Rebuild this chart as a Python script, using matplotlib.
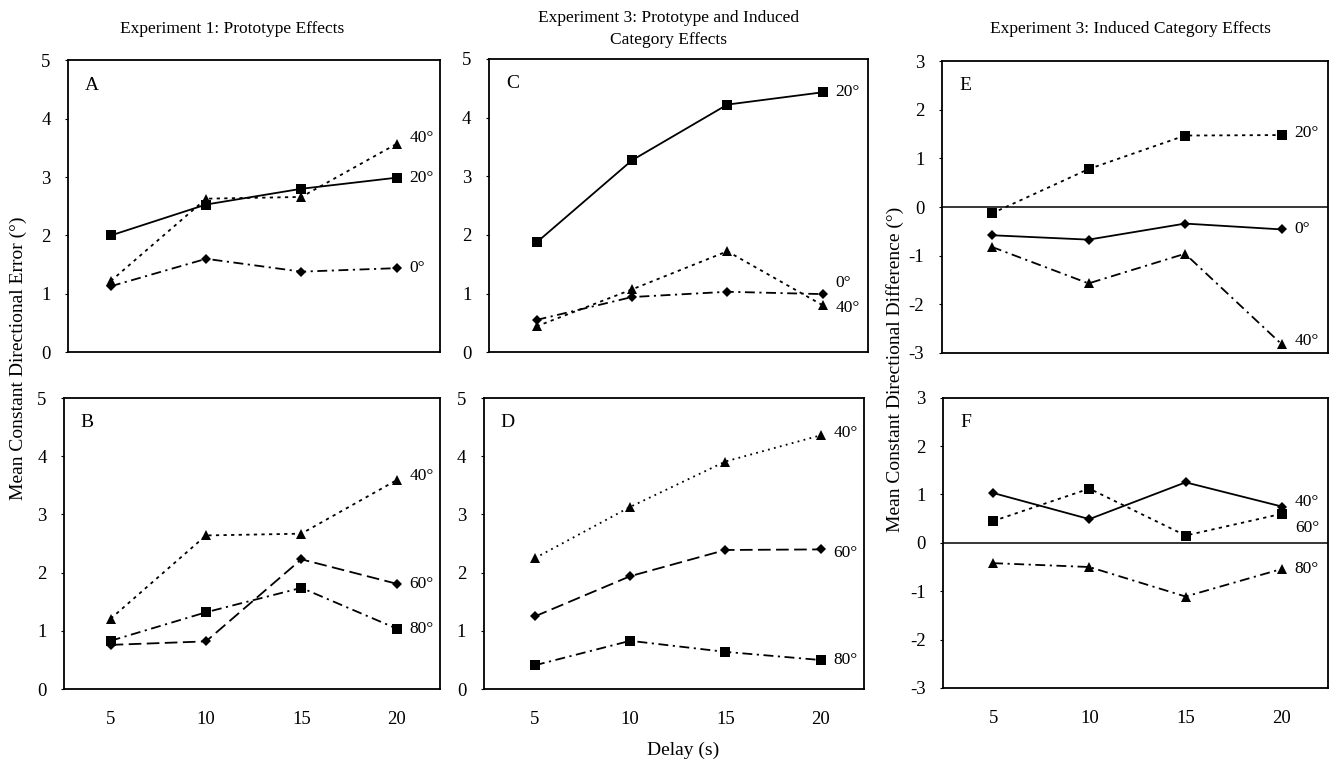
import matplotlib
matplotlib.use("Agg")
import matplotlib.pyplot as plt

plt.rcParams['font.family'] = ['Liberation Serif', 'DejaVu Serif']
plt.rcParams['axes.unicode_minus'] = False

delays = [5, 10, 15, 20]

# Experiment 1: prototype effects
a_20 = [2.00, 2.53, 2.80, 2.99]
a_40 = [1.22, 2.63, 2.66, 3.57]
a_0 = [1.13, 1.60, 1.38, 1.44]
b_40 = [1.21, 2.64, 2.67, 3.59]
b_60 = [0.76, 0.82, 2.23, 1.81]
b_80 = [0.83, 1.32, 1.74, 1.04]

# Experiment 3: prototype and induced category effects
c_20 = [1.87, 3.27, 4.22, 4.43]
c_40 = [0.44, 1.07, 1.72, 0.80]
c_0 = [0.55, 0.94, 1.03, 0.99]
d_40 = [2.25, 3.13, 3.91, 4.36]
d_60 = [1.25, 1.94, 2.39, 2.40]
d_80 = [0.41, 0.83, 0.64, 0.50]

# Experiment 3: induced category effects
e_20 = [-0.13, 0.78, 1.47, 1.48]
e_0 = [-0.58, -0.67, -0.34, -0.46]
e_40 = [-0.82, -1.57, -0.96, -2.82]
f_40 = [1.03, 0.49, 1.25, 0.75]
f_60 = [0.45, 1.12, 0.15, 0.60]
f_80 = [-0.42, -0.50, -1.11, -0.54]

SOLID = '-'
SHORT = (0, (1.8, 2.4))
DOTS = (0, (1.0, 2.4))
DASH = (0, (7, 3))
DASHDOT = (0, (5.5, 2.5, 1.2, 2.5))

MARK = {'s': 6.5, '^': 7, 'D': 5}

fig = plt.figure(figsize=(13.32, 7.64), dpi=100)


def panel(rect, letter, series, ylim, yticks, xlim, show_x):
    ax = fig.add_axes(rect)
    for vals, ls, mk, lab, dy in series:
        ax.plot(delays, vals, color='black', lw=1.3, linestyle=ls,
                marker=mk, markersize=MARK[mk], markeredgewidth=0)
        ax.annotate(lab, xy=(delays[-1], vals[-1]), xytext=(13, dy),
                    textcoords='offset pixels', fontsize=12.5,
                    va='center', ha='left')
    ax.set_xlim(*xlim)
    ax.set_ylim(*ylim)
    ax.set_yticks(yticks)
    ax.set_yticklabels([str(t) for t in yticks])
    ax.set_xticks(delays)
    if show_x:
        ax.set_xticklabels([str(d) for d in delays])
    else:
        ax.set_xticklabels([])
    ax.tick_params(axis='y', direction='out', length=2.5, width=0.8,
                   pad=10, labelsize=13.5)
    ax.tick_params(axis='x', length=0, pad=16, labelsize=13.5)
    for s in ax.spines.values():
        s.set_linewidth(1.3)
    if ylim[0] < 0:
        ax.axhline(0, color='black', lw=1.1)
    ax.text(0.045, 0.915, letter, transform=ax.transAxes, fontsize=14,
            va='center', ha='left')
    return ax


panel([0.051, 0.539, 0.279, 0.382], 'A',
      [(a_20, SOLID, 's', '20°', 0),
       (a_40, SHORT, '^', '40°', 6),
       (a_0, DASHDOT, 'D', '0°', 0)],
      (0, 5), [0, 1, 2, 3, 4, 5], (2.75, 22.25), False)
panel([0.048, 0.098, 0.282, 0.381], 'B',
      [(b_40, SHORT, '^', '40°', 4),
       (b_60, DASH, 'D', '60°', 0),
       (b_80, DASHDOT, 's', '80°', 0)],
      (0, 5), [0, 1, 2, 3, 4, 5], (2.55, 22.25), True)
panel([0.367, 0.539, 0.285, 0.384], 'C',
      [(c_20, SOLID, 's', '20°', 0),
       (c_40, SHORT, '^', '40°', -3),
       (c_0, DASHDOT, 'D', '0°', 11)],
      (0, 5), [0, 1, 2, 3, 4, 5], (2.5, 22.4), False)
panel([0.363, 0.098, 0.286, 0.381], 'D',
      [(d_40, DOTS, '^', '40°', 2),
       (d_60, DASH, 'D', '60°', -4),
       (d_80, DASHDOT, 's', '80°', 0)],
      (0, 5), [0, 1, 2, 3, 4, 5], (2.3, 22.3), True)
panel([0.707, 0.538, 0.290, 0.382], 'E',
      [(e_20, SHORT, 's', '20°', 2),
       (e_0, SOLID, 'D', '0°', 0),
       (e_40, DASHDOT, '^', '40°', 3)],
      (-3, 3), [-3, -2, -1, 0, 1, 2, 3], (2.4, 22.4), False)
panel([0.708, 0.0995, 0.289, 0.380], 'F',
      [(f_40, SOLID, 'D', '40°', 5),
       (f_60, SHORT, 's', '60°', -14),
       (f_80, DASHDOT, '^', '80°', 0)],
      (-3, 3), [-3, -2, -1, 0, 1, 2, 3], (2.4, 22.4), True)

fig.text(0.174, 0.962, 'Experiment 1: Prototype Effects', fontsize=12.5,
         ha='center', va='center')
fig.text(0.502, 0.962, 'Experiment 3: Prototype and Induced\nCategory Effects',
         fontsize=12.5, ha='center', va='center', linespacing=1.45)
fig.text(0.849, 0.962, 'Experiment 3: Induced Category Effects', fontsize=12.5,
         ha='center', va='center')

fig.text(0.0135, 0.531, 'Mean Constant Directional Error (°)', rotation=90,
         fontsize=14, ha='center', va='center')
fig.text(0.672, 0.516, 'Mean Constant Directional Difference (°)', rotation=90,
         fontsize=14, ha='center', va='center')
fig.text(0.513, 0.018, 'Delay (s)', fontsize=14, ha='center', va='center')

fig.savefig('out.png', dpi=100)
plt.close(fig)
